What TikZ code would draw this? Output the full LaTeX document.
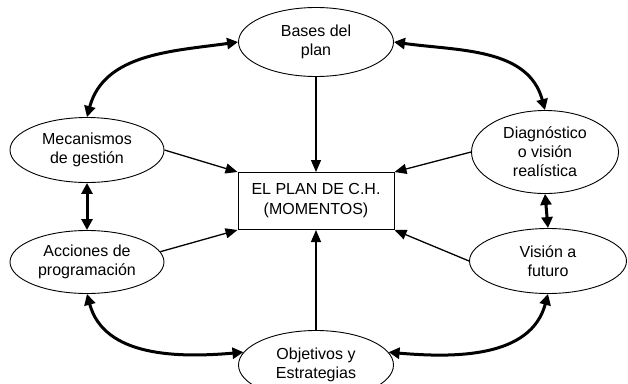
\documentclass[tikz,border=0pt]{standalone}
\usepackage{fontspec}
\setmainfont{Liberation Sans}
\usetikzlibrary{shapes.geometric,arrows.meta}
\begin{document}
\begin{tikzpicture}[x=1pt,y=1pt,
    elip/.style={draw,ellipse,line width=0.9pt,inner sep=0pt,align=center,
        font=\fontsize{16}{19}\selectfont},
    thinarrow/.style={line width=1.3pt,-{Triangle[length=12pt,width=10pt]}},
    thickarrow/.style={line width=3pt,{Triangle[length=11pt,width=11pt]}-{Triangle[length=11pt,width=11pt]}}]
\useasboundingbox (0,0) rectangle (628,-383);
\node[draw,line width=1pt,minimum width=156pt,minimum height=57pt,align=center,
    font=\fontsize{16}{20}\selectfont] (plan) at (316,-201) {EL PLAN DE C.H.\\(MOMENTOS)};
\node[elip,minimum width=155pt,minimum height=69pt] (bases) at (316,-42) {Bases del\\plan};
\node[elip,minimum width=154pt,minimum height=65pt] (mec) at (87,-150) {Mecanismos\\de gestión};
\node[elip,minimum width=154pt,minimum height=63pt] (acc) at (87,-262) {Acciones de\\programación};
\node[elip,minimum width=147pt,minimum height=83pt] (diag) at (545,-152) {Diagnóstico\\o visión\\realística};
\node[elip,minimum width=157pt,minimum height=65pt] (vis) at (548,-261) {Visión a\\futuro};
\node[elip,minimum width=155pt,minimum height=69pt] (obj) at (316,-365) {Objetivos y\\Estrategias};
%arrows into the plan
\draw[thinarrow] (bases.south) -- (plan.north);
\draw[thinarrow] (obj.north) -- (plan.south);
\draw[thinarrow] (mec.east) -- (plan.north west);
\draw[thinarrow] (acc.8) -- (plan.south west);
\draw[thinarrow] (diag.west) -- (plan.north east);
\draw[thinarrow] (vis.west) -- (plan.south east);
%arrows between the moments
\draw[thickarrow] (bases.west) to[out=188,in=75] (mec.north);
\draw[thickarrow] (bases.east) to[out=-8,in=105] (diag.north);
\draw[thickarrow] (acc.south) to[out=-75,in=185] (obj.170);
\draw[thickarrow] (obj.10) to[out=-5,in=-105] (vis.south);
\draw[thickarrow] (mec.south) -- (acc.north);
\draw[thickarrow] (diag.south) -- (vis.north);
\end{tikzpicture}
\end{document}
